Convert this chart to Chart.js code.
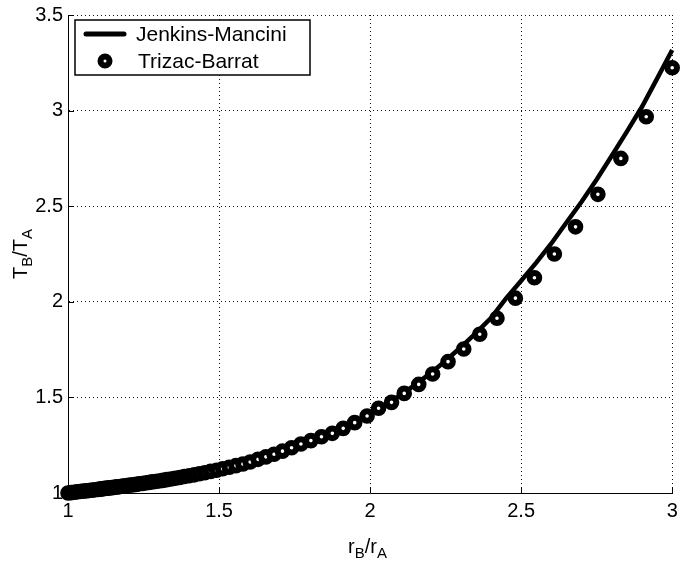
<!DOCTYPE html>
<html>
<head>
    <title>T_B/T_A vs r_B/r_A</title>
    <style>
        body {
            margin: 0;
            background: #fff;
            font-family: "Liberation Sans", Arial, sans-serif;
        }
        #wrap {
            position: relative;
            width: 683px;
            height: 565px;
        }
        #chart {
            position: absolute;
            left: 0;
            top: 0;
        }
        .axis-title {
            position: absolute;
            font-size: 20px;
            color: #000;
            white-space: nowrap;
            line-height: 1;
        }
        .axis-title sub {
            font-size: 15px;
            vertical-align: -5px;
        }
        #xtitle {
            left: 348px;
            top: 536px;
        }
        #ytitle {
            left: 22px;
            top: 254px;
            transform: translate(-50%, -50%) rotate(-90deg);
        }
    </style>
</head>
<body>
<div id="wrap">
    <canvas id="chart" width="683" height="565"></canvas>
    <div id="xtitle" class="axis-title">r<sub>B</sub>/r<sub>A</sub></div>
    <div id="ytitle" class="axis-title">T<sub>B</sub>/T<sub>A</sub></div>
</div>

<script src="https://cdn.jsdelivr.net/npm/chart.js"></script>

<script>
    // Jenkins-Mancini curve
    const jmX = [1.00, 1.05, 1.10, 1.15, 1.20, 1.25, 1.30, 1.35, 1.40, 1.45,
                 1.50, 1.55, 1.60, 1.65, 1.70, 1.75, 1.80, 1.85, 1.90, 1.95,
                 2.00, 2.05, 2.10, 2.15, 2.20, 2.25, 2.30, 2.35, 2.40, 2.45,
                 2.50, 2.55, 2.60, 2.65, 2.70, 2.75, 2.80, 2.85, 2.90, 2.95, 3.00];
    const jmY = [1.000, 1.010, 1.019, 1.029, 1.040, 1.051, 1.063, 1.076, 1.090, 1.105,
                 1.122, 1.141, 1.161, 1.183, 1.208, 1.235, 1.267, 1.299, 1.334, 1.372,
                 1.414, 1.462, 1.512, 1.567, 1.627, 1.692, 1.762, 1.836, 1.915, 2.018,
                 2.110, 2.205, 2.305, 2.415, 2.523, 2.640, 2.764, 2.890, 3.020, 3.167, 3.317];

    // Trizac-Barrat points
    const tbX = [1.000, 1.010, 1.020, 1.030, 1.040, 1.050, 1.060, 1.070, 1.080, 1.090,
                 1.100, 1.104, 1.109, 1.113, 1.118, 1.123, 1.128, 1.133, 1.139, 1.145,
                 1.151, 1.157, 1.163, 1.170, 1.177, 1.185, 1.192, 1.200, 1.209, 1.217,
                 1.226, 1.236, 1.246, 1.256, 1.267, 1.278, 1.289, 1.301, 1.314, 1.327,
                 1.341, 1.355, 1.370, 1.385, 1.401, 1.418, 1.435, 1.453, 1.472, 1.492,
                 1.512, 1.534, 1.556, 1.579, 1.603, 1.629, 1.655, 1.682, 1.710, 1.740,
                 1.771, 1.804, 1.839, 1.875, 1.911, 1.949, 1.990, 2.028, 2.071, 2.113,
                 2.161, 2.207, 2.258, 2.310, 2.363, 2.420, 2.481, 2.544, 2.610, 2.680,
                 2.754, 2.830, 2.914, 3.000];
    const tbY = [1.000, 1.002, 1.004, 1.006, 1.008, 1.010, 1.011, 1.013, 1.015, 1.017,
                 1.019, 1.020, 1.021, 1.022, 1.023, 1.024, 1.025, 1.026, 1.027, 1.028,
                 1.029, 1.031, 1.032, 1.033, 1.035, 1.037, 1.038, 1.040, 1.042, 1.043,
                 1.045, 1.048, 1.050, 1.052, 1.055, 1.058, 1.060, 1.063, 1.066, 1.070,
                 1.073, 1.077, 1.081, 1.086, 1.090, 1.095, 1.101, 1.106, 1.113, 1.119,
                 1.127, 1.135, 1.143, 1.152, 1.162, 1.176, 1.189, 1.203, 1.219, 1.237,
                 1.256, 1.274, 1.294, 1.312, 1.338, 1.368, 1.403, 1.443, 1.474, 1.521,
                 1.568, 1.622, 1.687, 1.753, 1.830, 1.914, 2.019, 2.126, 2.250, 2.392,
                 2.562, 2.750, 2.968, 3.224];

    const seriesNames = ['Jenkins-Mancini', 'Trizac-Barrat'];

    const tickFont = {family: '"Liberation Sans", Arial, sans-serif', size: 20};
    const fmt = v => String(Math.round(v * 10) / 10);

    // legend box inside the plot + inward tick marks like matlab
    const extras = {
        id: 'extras',
        afterDraw(chart) {
            const ctx = chart.ctx;
            const xs = chart.scales.x, ys = chart.scales.y;
            const area = chart.chartArea;
            ctx.save();
            ctx.strokeStyle = '#000';
            ctx.lineWidth = 1;
            xs.ticks.forEach(t => {
                const px = Math.round(xs.getPixelForValue(t.value)) + 0.5;
                ctx.beginPath();
                ctx.moveTo(px, area.bottom);
                ctx.lineTo(px, area.bottom - 6);
                ctx.stroke();
            });
            ys.ticks.forEach(t => {
                const py = Math.round(ys.getPixelForValue(t.value)) + 0.5;
                ctx.beginPath();
                ctx.moveTo(area.left, py);
                ctx.lineTo(area.left + 6, py);
                ctx.stroke();
            });

            // legend
            ctx.fillStyle = '#fff';
            ctx.fillRect(75, 20, 235, 55);
            ctx.lineWidth = 1.5;
            ctx.strokeRect(75, 20, 235, 55);

            ctx.lineWidth = 5;
            ctx.lineCap = 'round';
            ctx.beginPath();
            ctx.moveTo(86, 34);
            ctx.lineTo(124, 34);
            ctx.stroke();

            ctx.lineWidth = 6;
            ctx.beginPath();
            ctx.arc(105, 61, 4.5, 0, Math.PI * 2);
            ctx.fillStyle = '#fff';
            ctx.fill();
            ctx.stroke();

            ctx.fillStyle = '#000';
            ctx.font = '21px "Liberation Sans", Arial, sans-serif';
            ctx.textBaseline = 'middle';
            ctx.fillText(seriesNames[0], 136, 35);
            ctx.fillText(seriesNames[1], 138, 62);
            ctx.restore();
        }
    };

    const ctx = document.getElementById('chart').getContext('2d');
    const chart = new Chart(ctx, {
        type: 'scatter',
        data: {
            datasets: [
                {
                    label: seriesNames[1],
                    data: tbX.map((x, i) => ({x: x, y: tbY[i]})),
                    showLine: false,
                    pointRadius: 4.8,
                    pointBorderWidth: 6,
                    pointBorderColor: '#000',
                    pointBackgroundColor: '#fff',
                    pointHoverRadius: 4.8,
                    clip: false,
                    order: 0
                },
                {
                    label: seriesNames[0],
                    data: jmX.map((x, i) => ({x: x, y: jmY[i]})),
                    showLine: true,
                    borderColor: '#000',
                    borderWidth: 4.5,
                    pointRadius: 0,
                    tension: 0,
                    clip: false,
                    order: 1
                }
            ]
        },
        options: {
            responsive: false,
            animation: false,
            events: [],
            layout: {
                padding: {top: 15, right: 5, left: 0, bottom: 0}
            },
            plugins: {
                legend: {display: false},
                tooltip: {enabled: false}
            },
            scales: {
                x: {
                    type: 'linear',
                    min: 1,
                    max: 3,
                    afterFit: s => { s.height = 72; s.paddingLeft = 0; s.paddingRight = 0; },
                    ticks: {
                        stepSize: 0.5,
                        color: '#000',
                        font: tickFont,
                        padding: 6,
                        maxRotation: 0,
                        callback: fmt
                    },
                    grid: {
                        color: '#111',
                        lineWidth: 1,
                        drawTicks: false
                    },
                    border: {
                        color: '#000',
                        width: 1,
                        dash: [1, 3]
                    }
                },
                y: {
                    type: 'linear',
                    min: 1,
                    max: 3.5,
                    afterFit: s => { s.width = 68; s.paddingTop = 0; s.paddingBottom = 0; },
                    ticks: {
                        stepSize: 0.5,
                        color: '#000',
                        font: tickFont,
                        padding: 5,
                        callback: fmt
                    },
                    grid: {
                        color: '#111',
                        lineWidth: 1,
                        drawTicks: false
                    },
                    border: {
                        color: '#000',
                        width: 1,
                        dash: [1, 3]
                    }
                }
            }
        },
        plugins: [extras]
    });
</script>
</body>
</html>
